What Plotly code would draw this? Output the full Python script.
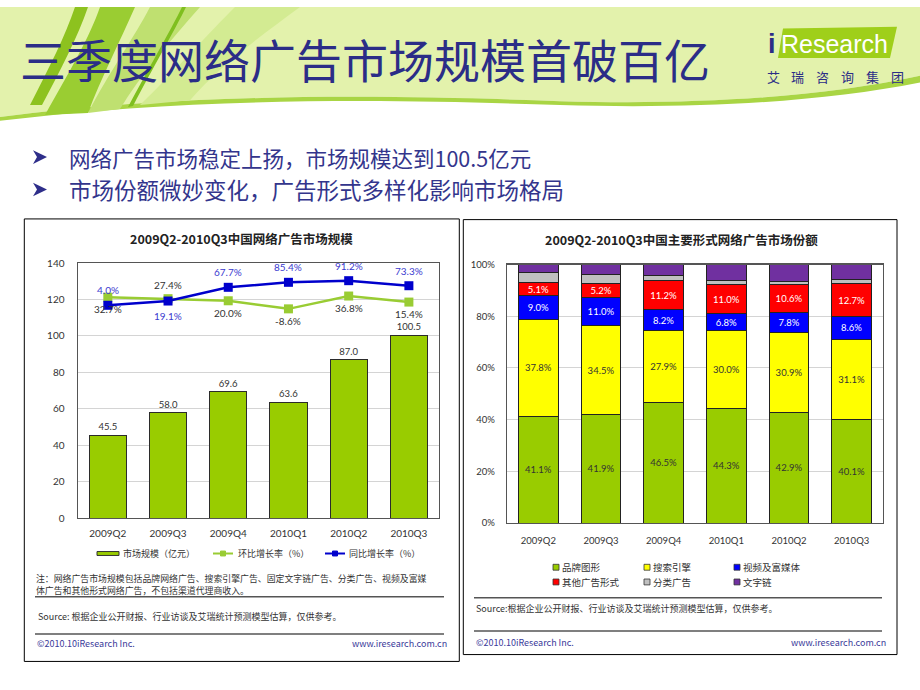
import plotly.graph_objects as go

# ---------------- data ----------------
quarters = ['2009Q2', '2009Q3', '2009Q4', '2010Q1', '2010Q2', '2010Q3']
market_size = [45.5, 58.0, 69.6, 63.6, 87.0, 100.5]
qoq_growth = [32.7, 27.4, 20.0, -8.6, 36.8, 15.4]
yoy_growth = [4.0, 19.1, 67.7, 85.4, 91.2, 73.3]

brand = [41.1, 41.9, 46.5, 44.3, 42.9, 40.1]
search = [37.8, 34.5, 27.9, 30.0, 30.9, 31.1]
video = [9.0, 11.0, 8.2, 6.8, 7.8, 8.6]
other = [5.1, 5.2, 11.2, 11.0, 10.6, 12.7]
classified = [3.9, 3.7, 1.9, 1.9, 1.4, 1.8]
textlink = [3.1, 3.7, 4.3, 6.0, 6.4, 5.7]

left_ticks = [0, 20, 40, 60, 80, 100, 120, 140]
right_ticks = [0, 20, 40, 60, 80, 100]
right_ticktext = ['0%', '20%', '40%', '60%', '80%', '100%']

# label placement (style): +1 above, -1 below
yoy_side = [1, -1, 1, 1, 1, 1]
qoq_side = [-1, 1, -1, -1, -1, -1]

W, H = 920, 690
CJK = 'Noto Sans CJK SC'
NUM = 'Lato, Noto Sans CJK SC'
NAVY = '#2B2D87'


def X(x):
    return x / W


def Y(y):
    return 1 - y / H


def path(cmds):
    out = []
    for c in cmds:
        op, nums = c[0], c[1:]
        pts = [f"{X(nums[i]):.5f},{Y(nums[i + 1]):.5f}" for i in range(0, len(nums), 2)]
        out.append(op + " ".join(pts))
    return " ".join(out)


shapes = []
annotations = []


def rect(x0, y0, x1, y1, line='#000', lw=1, fill=None):
    d = dict(type='rect', xref='paper', yref='paper', x0=X(x0), x1=X(x1), y0=Y(y1), y1=Y(y0),
             line=dict(color=line, width=lw))
    if fill:
        d['fillcolor'] = fill
    shapes.append(d)


def hline(x0, x1, y, color='#555', lw=1.5):
    shapes.append(dict(type='line', xref='paper', yref='paper', x0=X(x0), x1=X(x1), y0=Y(y), y1=Y(y),
                       line=dict(color=color, width=lw)))


def shp(cmds, fill, line_w=0, line_c=None, opacity=1):
    shapes.append(dict(type='path', xref='paper', yref='paper', path=path(cmds), fillcolor=fill,
                       line=dict(width=line_w, color=line_c or fill), opacity=opacity, layer='below'))


def txt(x, y, s, size, color='#333', anchor='left', family=CJK):
    annotations.append(dict(x=X(x), y=Y(y), xref='paper', yref='paper', text=s, showarrow=False,
                            xanchor=anchor, yanchor='middle', align=anchor if anchor != 'center' else 'center',
                            font=dict(size=size, color=color, family=family)))


# ---------------- header ----------------
shp([('M', 0, 0), ('L', 920, 0), ('L', 920, 70), ('C', 820, 92, 700, 100, 560, 96),
     ('C', 400, 90, 200, 86, 0, 112), ('Z',)], '#E3F2AC')
shp([('M', 920, 70), ('C', 820, 92, 700, 100, 560, 96), ('C', 400, 90, 200, 86, 0, 112),
     ('L', 0, 116), ('C', 200, 91, 400, 94, 560, 100), ('C', 700, 104, 820, 97, 920, 77), ('Z',)], '#A9D544')
shp([('M', 140, 100), ('C', 180, 60, 210, 25, 235, 0), ('L', 300, 0), ('C', 260, 30, 220, 60, 190, 95), ('Z',)], '#D3EB92')
shp([('M', 88, 108), ('C', 110, 65, 135, 30, 150, 0), ('L', 200, 0), ('C', 170, 35, 140, 70, 120, 104), ('Z',)], '#BFE070')
shp([('M', 30, 100), ('C', 50, 60, 65, 30, 75, 0), ('L', 88, 0), ('C', 78, 30, 60, 65, 42, 100), ('Z',)], '#8DC21F')
shp([('M', 45, 110), ('C', 70, 65, 90, 30, 100, 0), ('L', 135, 0), ('C', 120, 35, 100, 75, 88, 108), ('Z',)], '#9ACD32')
shp([('M', 128, 102), ('C', 150, 60, 170, 25, 182, 0), ('L', 186, 0), ('C', 174, 25, 154, 60, 133, 101), ('Z',)], '#7FBF1F')

txt(18, 52, '三季度网络广告市场规模首破百亿', 46, NAVY)

# logo
shp([('M', 783, 22), ('L', 897, 20), ('L', 890, 52), ('L', 778, 52), ('Z',)], '#9FCF1A')
txt(766, 38, '<b>i</b>', 27, NAVY, family='Liberation Sans')
txt(779, 38, 'Research', 25, '#FFFFFF', family='Liberation Sans')
for i, ch in enumerate('艾瑞咨询集团'):
    txt(773 + i * 24.8, 71, ch, 13, NAVY, anchor='center')

# bullets
for yy in (153, 186):
    shp([('M', 33, yy - 7), ('L', 47, yy), ('L', 33, yy + 7), ('L', 37, yy), ('Z',)], '#2E2E8A')
txt(67, 153, '网络广告市场稳定上扬，市场规模达到100.5亿元', 21.5, '#33358C')
txt(67, 186, '市场份额微妙变化，广告形式多样化影响市场格局', 22.5, '#33358C')

# boxes
rect(24.3, 216, 459.3, 667)
rect(463.3, 216.7, 897, 660)

# ---------------- figure ----------------
fig = go.Figure()

# left: market size bars
fig.add_trace(go.Bar(x=quarters, y=market_size, xaxis='x', yaxis='y', width=0.62,
                     marker=dict(color='#99CC00', line=dict(color='#2B2B2B', width=1)),
                     text=[f'{v:.1f}' for v in market_size], textposition='outside',
                     textfont=dict(size=10.5, color='#333', family=NUM), cliponaxis=False,
                     hoverinfo='skip'))
fig.add_trace(go.Scatter(x=quarters, y=qoq_growth, xaxis='x', yaxis='y2', mode='lines+markers',
                         line=dict(color='#99CC33', width=2.5),
                         marker=dict(symbol='square', size=9, color='#99CC33'), cliponaxis=False,
                         hoverinfo='skip'))
fig.add_trace(go.Scatter(x=quarters, y=yoy_growth, xaxis='x', yaxis='y2', mode='lines+markers',
                         line=dict(color='#0000CC', width=2.5),
                         marker=dict(symbol='square', size=9, color='#0000CC'), cliponaxis=False,
                         hoverinfo='skip'))

for q, v, s in zip(quarters, yoy_growth, yoy_side):
    annotations.append(dict(x=q, y=v, xref='x', yref='y2', text=f'{v:.1f}%', showarrow=False,
                            yshift=15 * s, font=dict(size=10, color='#3A3ACF', family=NUM)))
for q, v, s in zip(quarters, qoq_growth, qoq_side):
    annotations.append(dict(x=q, y=v, xref='x', yref='y2', text=f'{v:.1f}%', showarrow=False,
                            yshift=(14 if s > 0 else 12) * s, font=dict(size=10, color='#333', family=NUM)))

# right: share stacked bars
series = [('品牌图形', brand, '#99CC00', '#333'),
          ('搜索引擎', search, '#FFFF00', '#333'),
          ('视频及富媒体', video, '#0000FF', '#FFFFFF'),
          ('其他广告形式', other, '#FF0000', '#FFFFFF'),
          ('分类广告', classified, '#C0C0C0', None),
          ('文字链', textlink, '#7030A0', None)]
for name, vals, col, tcol in series:
    kw = {}
    if tcol:
        kw = dict(text=[f'{v:.1f}%' for v in vals], textposition='inside', insidetextanchor='middle',
                  textangle=0, textfont=dict(size=9.5, color=tcol, family=NUM))
    fig.add_trace(go.Bar(x=quarters, y=vals, name=name, xaxis='x2', yaxis='y3', width=0.63,
                         marker=dict(color=col, line=dict(color='#222', width=1)), hoverinfo='skip', **kw))

# titles
txt(242, 236, '<b>2009Q2-2010Q3中国网络广告市场规模</b>', 12.5, '#222', anchor='center')
txt(681, 237, '<b>2009Q2-2010Q3中国主要形式网络广告市场份额</b>', 12.5, '#222', anchor='center')

# left legend
rect(97, 555, 119, 559, line='#333', lw=1, fill='#99CC00')
hline(213, 233, 557, color='#99CC33', lw=2)
rect(220.5, 554.5, 225.5, 559.5, line='#99CC33', lw=1, fill='#99CC33')
hline(325, 345, 557, color='#0000CC', lw=2)
rect(332.5, 554.5, 337.5, 559.5, line='#0000CC', lw=1, fill='#0000CC')
txt(121, 557, '市场规模（亿元）', 9, '#333')
txt(236, 557, '环比增长率（%）', 9, '#333')
txt(347, 557, '同比增长率（%）', 9, '#333')

# left notes
txt(34, 588.5, '注：网络广告市场规模包括品牌网络广告、搜索引擎广告、固定文字链广告、分类广告、视频及富媒'
               '<br>体广告和其他形式网络广告，不包括渠道代理商收入。', 8.9, '#333')
hline(35, 444, 601)
txt(36, 621, 'Source: 根据企业公开财报、行业访谈及艾瑞统计预测模型估算，仅供参考。', 9, '#333')
hline(35, 444, 639)
txt(35, 649, '©2010.10iResearch Inc.', 9, '#3A3A9A')
txt(449, 649, 'www.iresearch.com.cn', 9, '#3A3A9A', anchor='right')

# right legend
leg_pos = [(556, 571), (647, 571), (737, 571), (556, 586), (647, 586), (737, 586)]
for (name, vals, col, tcol), (lx, ly) in zip(series, leg_pos):
    rect(lx - 3, ly - 3, lx + 3, ly + 3, line='#333', lw=0.8, fill=col)
    txt(lx + 4, ly, name, 9.5, '#333')

hline(474, 882, 602)
txt(474, 613, 'Source:根据企业公开财报、行业访谈及艾瑞统计预测模型估算，仅供参考。', 9, '#333')
hline(474, 882, 636)
txt(474, 648, '©2010.10iResearch Inc.', 9, '#3A3A9A')
txt(888, 648, 'www.iresearch.com.cn', 9, '#3A3A9A', anchor='right')

axis_font = dict(size=10, color='#333', family=NUM)
fig.update_layout(
    width=W, height=H, margin=dict(l=0, r=0, t=0, b=0),
    paper_bgcolor='white', plot_bgcolor='white', showlegend=False, barmode='stack',
    uniformtext=dict(minsize=9.5, mode='show'), hovermode=False,
    xaxis=dict(domain=[X(77.7), X(439)], anchor='y', type='category', range=[-0.5, 5.5],
               showline=True, linecolor='#555', linewidth=1.2, mirror=True, ticks='',
               tickfont=axis_font, showgrid=False, fixedrange=True, ticklabelstandoff=6),
    yaxis=dict(domain=[Y(521), Y(261)], anchor='x', range=[0, 140], tickvals=left_ticks,
               showline=True, linecolor='#555', linewidth=1.2, mirror=True, ticks='',
               gridcolor='#D4D4D4', zeroline=False, tickfont=axis_font, ticklabelstandoff=10),
    yaxis2=dict(overlaying='y', anchor='x', range=[-750, 153.5], visible=False),
    xaxis2=dict(domain=[X(507), X(883)], anchor='y3', type='category', range=[-0.5, 5.5],
                showline=True, linecolor='#555', linewidth=1.2, mirror=True, ticks='',
                tickfont=dict(size=9.5, color='#333', family=NUM), showgrid=False, ticklabelstandoff=8),
    yaxis3=dict(domain=[Y(526), Y(262.5)], anchor='x2', range=[0, 100], tickvals=right_ticks,
                ticktext=right_ticktext, showline=True, linecolor='#555', linewidth=1.2, mirror=True,
                ticks='', gridcolor='#D4D4D4', zeroline=False,
                tickfont=dict(size=9.5, color='#333', family=NUM), ticklabelstandoff=9),
    shapes=shapes, annotations=annotations,
)

fig.write_html('out.html', config={'displayModeBar': False, 'staticPlot': True},
               post_script="document.body.style.margin='0px';document.body.style.overflow='hidden';")
